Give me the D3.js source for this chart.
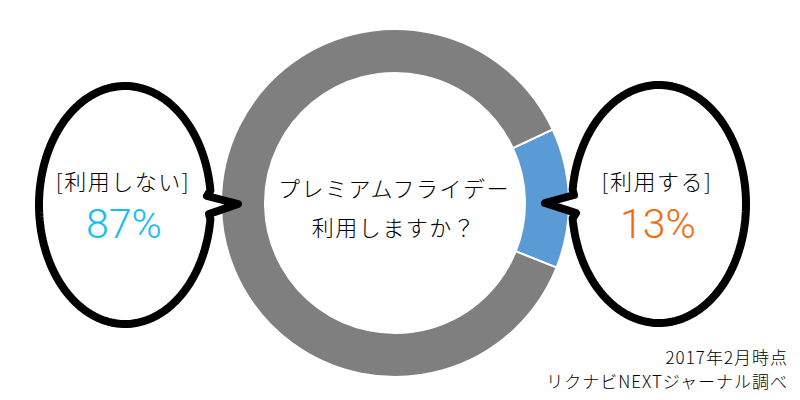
<!DOCTYPE html>
<html>
<head>
<meta charset="utf-8">
<script src="https://cdn.jsdelivr.net/npm/d3@7"></script>
<style>
  body { margin: 0; background: #fff; }
  text { font-family: "Noto Sans CJK JP", "Noto Sans", sans-serif; font-weight: 300; }
</style>
</head>
<body>
<div id="chart"></div>
<script>
// data
const categories = ["利用する", "利用しない"];
const values = [13, 87];
const sliceColors = ["#5b9bd5", "#7f7f7f"];
const valueColors = ["#f26b10", "#14bff0"];
const titleLines = ["プレミアムフライデー", "利用しますか？"];
const noteLines = ["2017年2月時点", "リクナビNEXTジャーナル調べ"];

const width = 800, height = 400;
const cx = 395, cy = 203;
const outerR = 174, innerR = 130;

const svg = d3.select("#chart")
    .append("svg")
    .attr("width", width)
    .attr("height", height);

// donut
const pie = d3.pie()
    .sort(null)
    .startAngle(65 * Math.PI / 180)
    .endAngle(425 * Math.PI / 180);

const arc = d3.arc()
    .innerRadius(innerR)
    .outerRadius(outerR);

const g = svg.append("g").attr("transform", `translate(${cx},${cy})`);
g.selectAll("path")
    .data(pie(values))
    .enter().append("path")
    .attr("d", arc)
    .attr("fill", (d, i) => sliceColors[i])
    .attr("stroke", "#fff")
    .attr("stroke-width", 2);

// centre question
svg.append("g").selectAll("text")
    .data(titleLines)
    .enter().append("text")
    .attr("x", cx - 1)
    .attr("y", (d, i) => 197 + i * 39)
    .attr("text-anchor", "middle")
    .attr("fill", "#000")
    .style("font-size", "22px")
    .style("letter-spacing", "1.5px")
    .text(d => d);

// speech bubbles: ellipse with a pointed tail toward the donut
function bubblePath(bx, by, rx, ry, side) {
    const tailAngle = side > 0 ? 0 : Math.PI;
    const gap = 0.12;
    const pts = [];
    const n = 180;
    for (let k = 0; k <= n; k++) {
        const a = tailAngle + gap + (2 * Math.PI - 2 * gap) * k / n;
        pts.push([bx + rx * Math.cos(a), by + ry * Math.sin(a)]);
    }
    const ex = bx + side * rx;
    pts.push([ex - side * 4, by - side * 9]);
    pts.push([ex + side * 27, by - 1]);
    pts.push([ex - side * 2, by + side * 9]);
    return d3.line()(pts) + "Z";
}

const bubbles = [
    { x: 125, y: 205, rx: 86, ry: 119, side: 1, idx: 1 },
    { x: 659, y: 204, rx: 87, ry: 119, side: -1, idx: 0 }
];

bubbles.forEach(b => {
    svg.append("path")
        .attr("d", bubblePath(b.x, b.y, b.rx, b.ry, b.side))
        .attr("fill", "#fff")
        .attr("stroke", "#000")
        .attr("stroke-width", 8)
        .attr("stroke-linejoin", "round");

    svg.append("text")
        .attr("x", b.x - 2)
        .attr("y", 190)
        .attr("text-anchor", "middle")
        .attr("fill", "#000")
        .style("font-size", "22px")
        .style("letter-spacing", "1.5px")
        .text(`[${categories[b.idx]}]`);

    svg.append("text")
        .attr("x", b.x - 1)
        .attr("y", 238)
        .attr("text-anchor", "middle")
        .attr("fill", valueColors[b.idx])
        .style("font-size", "41px")
        .style("font-family", "Roboto, 'Noto Sans', sans-serif")
        .style("font-weight", 300)
        .text(`${values[b.idx]}%`);
});

// source note
svg.append("g").selectAll("text")
    .data(noteLines)
    .enter().append("text")
    .attr("x", 788)
    .attr("y", (d, i) => 364 + i * 24)
    .attr("text-anchor", "end")
    .attr("fill", "#000")
    .style("font-size", "17px")
    .style("letter-spacing", "1px")
    .text(d => d);
</script>
</body>
</html>
